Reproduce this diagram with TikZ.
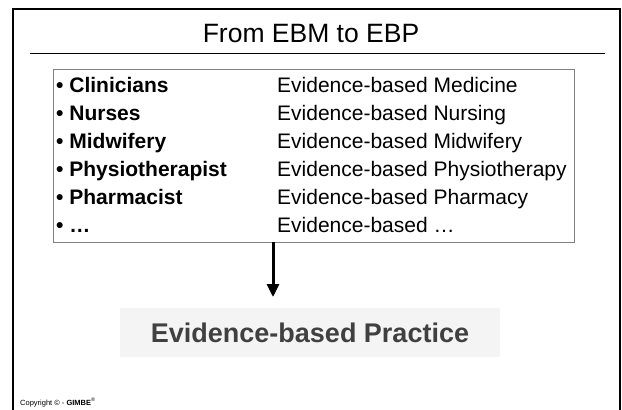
\documentclass[tikz,border=0pt]{standalone}
\usepackage{fontspec}
\setmainfont{Liberation Sans}
\usetikzlibrary{arrows.meta,positioning}
\definecolor{listframe}{HTML}{808080}
\definecolor{practicefill}{HTML}{F4F4F4}
\definecolor{practicetext}{HTML}{404040}

\begin{document}
\begin{tikzpicture}[x=1pt,y=-1pt,
	role/.style={anchor=base west,inner sep=0pt,font=\fontsize{21}{24}\selectfont\bfseries},
	field/.style={anchor=base west,inner sep=0pt,font=\fontsize{21}{24}\selectfont}]

	\useasboundingbox (0,0) rectangle (622,410);

	% slide frame, open at the bottom
	\draw[line width=2.5pt] (13,410) -- (13,9) -- (620,9) -- (620,410);

	\node[inner sep=0pt,anchor=base,font=\fontsize{26.5}{30}\selectfont] (title) at (311,42) {From EBM to EBP};
	\coordinate (ruleL) at (30,53);
	\coordinate (ruleR) at (605,53);
	\draw[line width=1pt] (ruleL) -- (ruleR);

	% list of professions
	\coordinate (listNW) at (53,69);
	\coordinate (listSE) at (574,242);
	\draw[listframe,line width=0.8pt] (listNW) rectangle (listSE);

	\foreach \who/\what [count=\i] in {Clinicians/Medicine,Nurses/Nursing,Midwifery/Midwifery,
		Physiotherapist/Physiotherapy,Pharmacist/Pharmacy,\dots/\dots}{
		\node[role] (who\i) at (56,64+28*\i) {• \who};
		\node[field] (what\i) at (277,64+28*\i) {Evidence-based \what};
	}

	% result
	\node[fill=practicefill,text=practicetext,minimum width=380pt,minimum height=49pt,
		font=\fontsize{27}{30}\selectfont\bfseries] (practice) at (310,332.5) {Evidence-based Practice};
	\coordinate (arrowTop) at (273,242);
	\draw[line width=3pt,-{Triangle[length=13pt,width=12pt]}] (arrowTop) -- (arrowTop |- 0,297);

	\node[inner sep=0pt,anchor=base west,font=\fontsize{7.5}{9}\selectfont] (copyright) at (20,405)
		{Copyright © - \textbf{GIMBE}\textsuperscript{®}};

\end{tikzpicture}
\end{document}
